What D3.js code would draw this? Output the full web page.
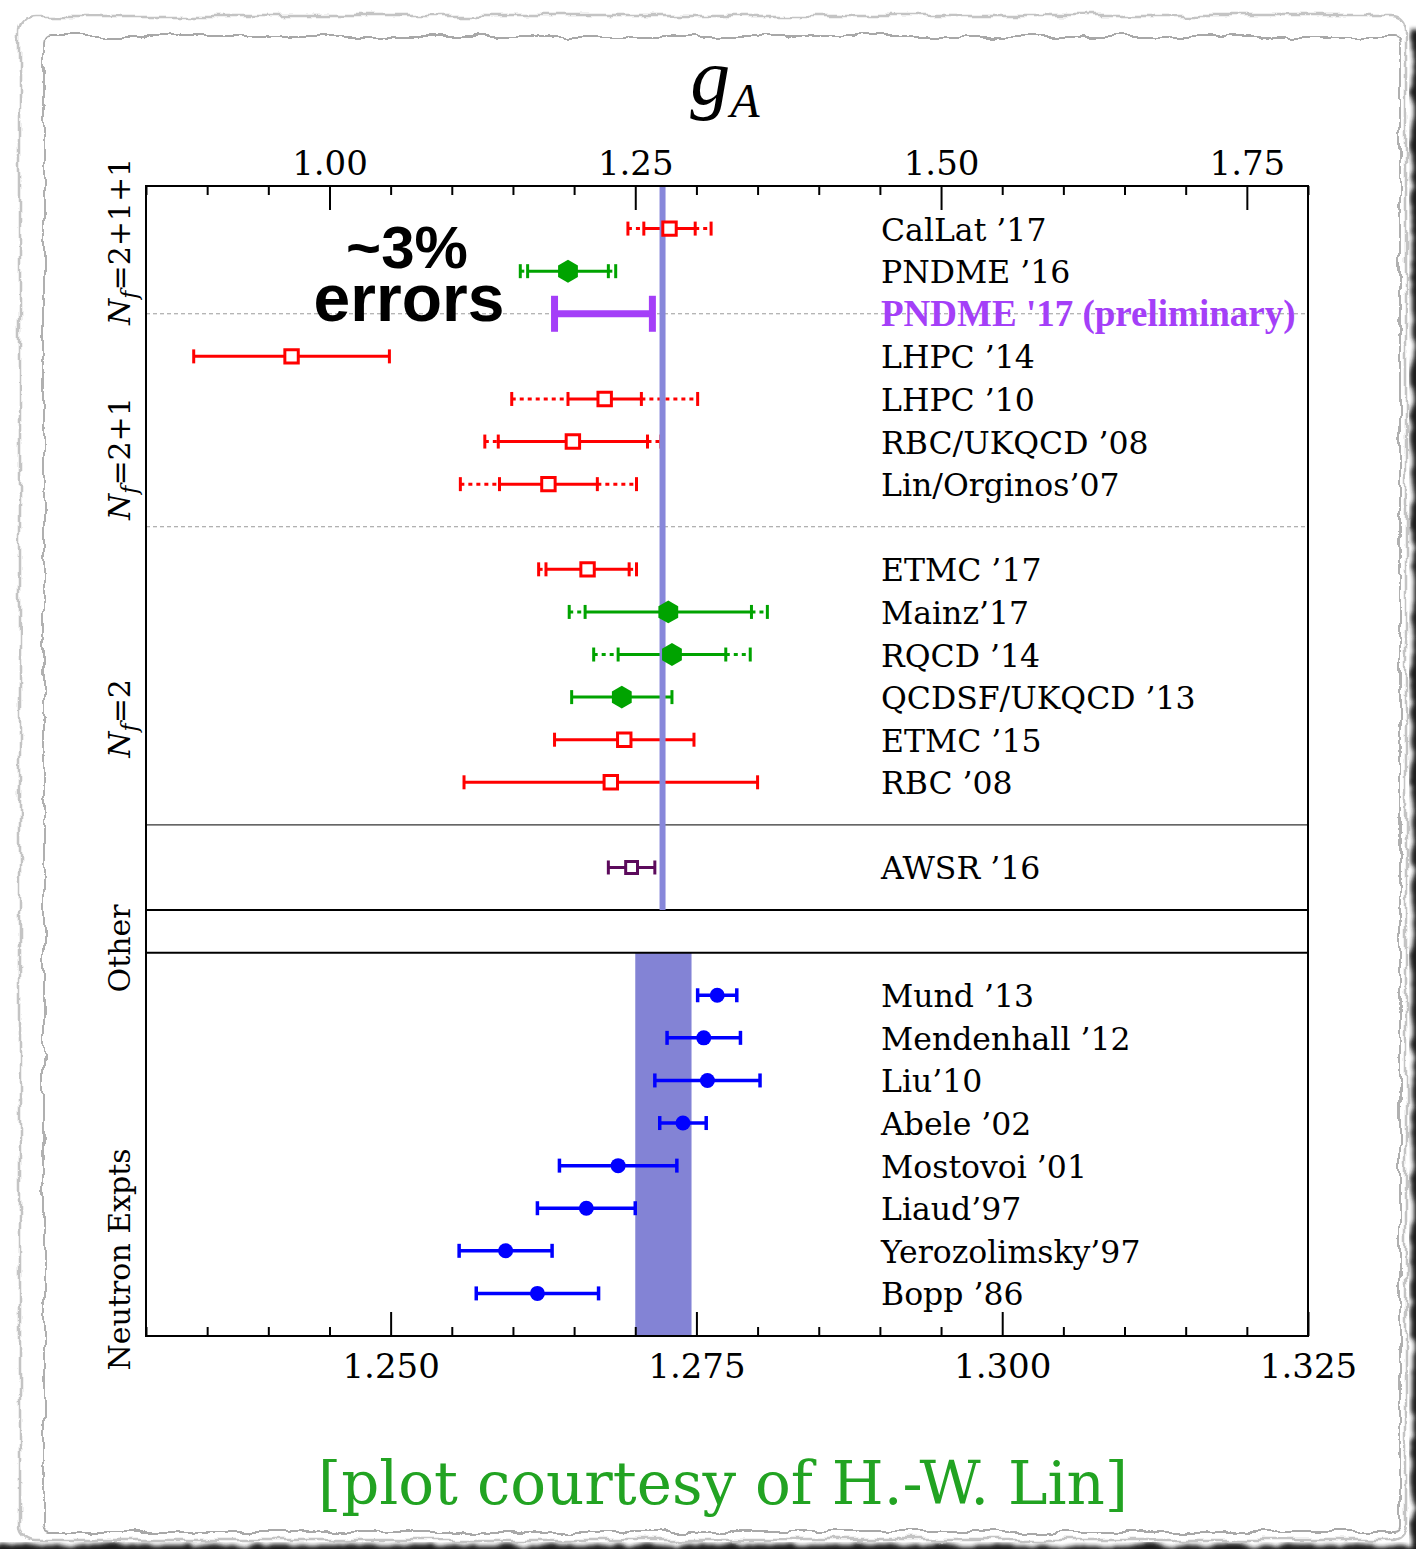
<!DOCTYPE html>
<html>
<head>
<meta charset="utf-8">
<script src="https://cdn.jsdelivr.net/npm/d3@7"></script>
<style>
  body { margin: 0; background: #fff; }
  svg text { font-family: "DejaVu Serif", serif; }
</style>
</head>
<body>
<div id="chart"></div>
<script>

// 1. Data

// lattice results, top axis (gA)
const latticeLabels = ["CalLat ’17", "PNDME ’16", "PNDME '17 (preliminary)", "LHPC ’14", "LHPC ’10",
  "RBC/UKQCD ’08", "Lin/Orginos’07", "ETMC ’17", "Mainz’17", "RQCD ’14", "QCDSF/UKQCD ’13",
  "ETMC ’15", "RBC ’08", "AWSR ’16"]
const latticeRows = [0, 1, 2, 3, 4, 5, 6, 8, 9, 10, 11, 12, 13, 15]
const latticeValues = [1.278, 1.195, 1.224, 0.969, 1.225, 1.199, 1.179, 1.211, 1.277, 1.280, 1.239, 1.241, 1.230, 1.247]
const latticeStatErr = [0.021, 0.033, 0.040, 0.080, 0.030, 0.061, 0.040, 0.034, 0.068, 0.044, 0.041, 0.057, 0.120, 0.019]
const latticeTotalErr = [0.034, 0.039, null, null, 0.076, 0.072, 0.072, 0.040, 0.081, 0.064, null, null, null, null]
const latticeKind = ["square", "hex", "bar", "square", "square", "square", "square", "square",
  "hex", "hex", "hex", "square", "square", "awsr"]

// neutron decay experiments, bottom axis
const neutronLabels = ["Mund ’13", "Mendenhall ’12", "Liu’10", "Abele ’02", "Mostovoi ’01",
  "Liaud’97", "Yerozolimsky’97", "Bopp ’86"]
const neutronRows = [18, 19, 20, 21, 22, 23, 24, 25]
const neutronValues = [1.2767, 1.2756, 1.2759, 1.2739, 1.2686, 1.2660, 1.2594, 1.2620]
const neutronErr = [0.0016, 0.0030, 0.0043, 0.0019, 0.0048, 0.0040, 0.0038, 0.0050]

// world average band
const pdgValue = 1.2723
const pdgErr = 0.0023

// ticks
const topMajorTicks = [1.00, 1.25, 1.50, 1.75]
const topMinorTicks = [0.85, 0.90, 0.95, 1.05, 1.10, 1.15, 1.20, 1.30, 1.35, 1.40, 1.45, 1.55, 1.60, 1.65, 1.70, 1.80]
const bottomMajorTicks = [1.250, 1.275, 1.300, 1.325]
const bottomMinorTicks = [1.230, 1.235, 1.240, 1.245, 1.255, 1.260, 1.265, 1.270, 1.280, 1.285, 1.290, 1.295, 1.305, 1.310, 1.315, 1.320]

// group labels on the left
const groupLabels = [
  { main: "N", sub: "f", rest: "=2+1+1", row: 0.3 },
  { main: "N", sub: "f", rest: "=2+1", row: 5.4 },
  { main: "N", sub: "f", rest: "=2", row: 11.5 },
  { main: "", sub: "", rest: "Other", row: 16.9 },
  { main: "", sub: "", rest: "Neutron Expts", row: 24.2 },
]

// 2. Dimensions

let dimensions = {
  width: 1416,
  height: 1549,
  margin: { top: 186, right: 108, bottom: 213, left: 146 },
}
dimensions.boundedWidth = dimensions.width - dimensions.margin.left - dimensions.margin.right
dimensions.boundedHeight = dimensions.height - dimensions.margin.top - dimensions.margin.bottom

const colors = {
  square: "#ff0000",
  hex: "#00a300",
  bar: "#a43ff8",
  awsr: "#5c0a5c",
  neutron: "#0000ff",
  band: "#8383d5",
  line: "#8787da",
}

// 3. Canvas

const svg = d3.select("#chart")
  .append("svg")
    .attr("width", dimensions.width)
    .attr("height", dimensions.height)

// torn paper look
const defs = svg.append("defs")
const rough = defs.append("filter").attr("id", "rough")
    .attr("x", "-5%").attr("y", "-5%").attr("width", "110%").attr("height", "110%")
rough.append("feTurbulence")
    .attr("type", "fractalNoise").attr("baseFrequency", "0.04").attr("numOctaves", 4).attr("seed", 3)
    .attr("result", "noise")
rough.append("feDisplacementMap")
    .attr("in", "SourceGraphic").attr("in2", "noise").attr("scale", 10)
    .attr("xChannelSelector", "R").attr("yChannelSelector", "G")
const shadow = defs.append("filter").attr("id", "shadow")
    .attr("x", "-10%").attr("y", "-10%").attr("width", "120%").attr("height", "120%")
shadow.append("feTurbulence")
    .attr("type", "fractalNoise").attr("baseFrequency", "0.05").attr("numOctaves", 3).attr("seed", 7)
    .attr("result", "noise")
shadow.append("feDisplacementMap")
    .attr("in", "SourceGraphic").attr("in2", "noise").attr("scale", 10)
    .attr("xChannelSelector", "R").attr("yChannelSelector", "G").attr("result", "d")
shadow.append("feGaussianBlur").attr("in", "d").attr("stdDeviation", 2)

const paper = svg.append("g").attr("class", "paper")
paper.append("rect")
    .attr("x", 1412).attr("y", 30).attr("width", 30).attr("height", 1540)
    .attr("fill", "#1e1e1e").attr("filter", "url(#shadow)")
paper.append("rect")
    .attr("x", -10).attr("y", 1545).attr("width", 1450).attr("height", 30)
    .attr("fill", "#1e1e1e").attr("filter", "url(#shadow)")
paper.append("rect")
    .attr("x", 20).attr("y", 16).attr("width", 1386).attr("height", 1524)
    .attr("rx", 14)
    .attr("fill", "#fff").attr("stroke", "#c4c4c4").attr("stroke-width", 2.5)
    .attr("filter", "url(#rough)")
paper.append("rect")
    .attr("x", 44).attr("y", 36).attr("width", 1356).attr("height", 1496)
    .attr("rx", 6)
    .attr("fill", "#fff").attr("stroke", "#a8a8a8").attr("stroke-width", 1.8)
    .attr("filter", "url(#rough)")

const bounds = svg.append("g")

// 4. Scales

const xTop = d3.scaleLinear()
  .domain([0.85, 1.80])
  .range([dimensions.margin.left, dimensions.margin.left + dimensions.boundedWidth])

const xBottom = d3.scaleLinear()
  .domain([1.230, 1.325])
  .range([dimensions.margin.left, dimensions.margin.left + dimensions.boundedWidth])

const yScale = d3.scaleLinear()
  .domain([-1, 26])
  .range([dimensions.margin.top, dimensions.margin.top + dimensions.boundedHeight])

const left = xTop.range()[0]
const right = xTop.range()[1]

// 5. Peripherals behind the data

// world average band in the neutron panel
bounds.append("rect")
    .attr("x", xBottom(pdgValue - pdgErr))
    .attr("y", yScale(17))
    .attr("width", xBottom(pdgValue + pdgErr) - xBottom(pdgValue - pdgErr))
    .attr("height", yScale(26) - yScale(17))
    .attr("fill", colors.band)

// separators
bounds.selectAll(".sep-dash")
  .data([2, 7])
  .join("line")
    .attr("class", "sep-dash")
    .attr("x1", left).attr("x2", right)
    .attr("y1", d => yScale(d)).attr("y2", d => yScale(d))
    .attr("stroke", "#9a9a9a")
    .attr("stroke-width", 1)
    .attr("stroke-dasharray", "4,3")

bounds.append("line")
    .attr("x1", left).attr("x2", right)
    .attr("y1", yScale(14)).attr("y2", yScale(14))
    .attr("stroke", "#333").attr("stroke-width", 1.2)

bounds.selectAll(".sep-solid")
  .data([16, 17])
  .join("line")
    .attr("class", "sep-solid")
    .attr("x1", left).attr("x2", right)
    .attr("y1", d => yScale(d)).attr("y2", d => yScale(d))
    .attr("stroke", "#000").attr("stroke-width", 2)

// 6. Error bars

const lattice = latticeLabels.map((label, i) => ({
  label,
  row: latticeRows[i],
  value: latticeValues[i],
  stat: latticeStatErr[i],
  total: latticeTotalErr[i],
  kind: latticeKind[i],
}))

const neutrons = neutronLabels.map((label, i) => ({
  label,
  row: neutronRows[i],
  value: neutronValues[i],
  err: neutronErr[i],
}))

const drawBar = (g, x, lo, hi, y, color, width, dash) => {
  g.append("line")
      .attr("x1", x(lo)).attr("x2", x(hi))
      .attr("y1", y).attr("y2", y)
      .attr("stroke", color).attr("stroke-width", width)
      .attr("stroke-dasharray", dash)
}
const drawCap = (g, px, y, color, width, capHalf) => {
  g.append("line")
      .attr("x1", px).attr("x2", px)
      .attr("y1", y - capHalf).attr("y2", y + capHalf)
      .attr("stroke", color).attr("stroke-width", width)
}

const latticeBars = bounds.append("g").attr("class", "lattice-bars")
lattice.forEach(d => {
  const y = yScale(d.row)
  const color = colors[d.kind]
  if (d.kind === "bar") {
    drawBar(latticeBars, xTop, d.value - d.stat, d.value + d.stat, y, color, 7)
    drawCap(latticeBars, xTop(d.value - d.stat), y, color, 7, 18)
    drawCap(latticeBars, xTop(d.value + d.stat), y, color, 7, 18)
    return
  }
  const w = 3
  drawBar(latticeBars, xTop, d.value - d.stat, d.value + d.stat, y, color, w)
  drawCap(latticeBars, xTop(d.value - d.stat), y, color, w, 7)
  drawCap(latticeBars, xTop(d.value + d.stat), y, color, w, 7)
  if (d.total) {
    drawBar(latticeBars, xTop, d.value - d.total, d.value - d.stat, y, color, w, "4,4")
    drawBar(latticeBars, xTop, d.value + d.stat, d.value + d.total, y, color, w, "4,4")
    drawCap(latticeBars, xTop(d.value - d.total), y, color, w, 7)
    drawCap(latticeBars, xTop(d.value + d.total), y, color, w, 7)
  }
})

const neutronBars = bounds.append("g").attr("class", "neutron-bars")
neutrons.forEach(d => {
  const y = yScale(d.row)
  drawBar(neutronBars, xBottom, d.value - d.err, d.value + d.err, y, colors.neutron, 3.5)
  drawCap(neutronBars, xBottom(d.value - d.err), y, colors.neutron, 3.5, 7)
  drawCap(neutronBars, xBottom(d.value + d.err), y, colors.neutron, 3.5, 7)
})

// average line through the lattice panels
bounds.append("line")
    .attr("x1", xTop(pdgValue)).attr("x2", xTop(pdgValue))
    .attr("y1", yScale(-1)).attr("y2", yScale(16))
    .attr("stroke", colors.line)
    .attr("stroke-width", 6)

// 7. Markers

const symbolHexagon = {
  draw(context, size) {
    const r = Math.sqrt(size / (1.5 * Math.sqrt(3)))
    for (let i = 0; i < 6; i++) {
      const a = Math.PI / 3 * i - Math.PI / 2
      if (i === 0) context.moveTo(r * Math.cos(a), r * Math.sin(a))
      else context.lineTo(r * Math.cos(a), r * Math.sin(a))
    }
    context.closePath()
  }
}

bounds.append("g")
  .selectAll("path")
  .data(lattice.filter(d => d.kind !== "bar"))
  .join("path")
    .attr("transform", d => `translate(${xTop(d.value)}, ${yScale(d.row)})`)
    .attr("d", d => d.kind === "hex"
      ? d3.symbol(symbolHexagon, 340)()
      : d3.symbol(d3.symbolSquare, d.kind === "awsr" ? 140 : 180)())
    .attr("fill", d => d.kind === "hex" ? colors.hex : "#fff")
    .attr("stroke", d => colors[d.kind])
    .attr("stroke-width", d => d.kind === "hex" ? 0 : 3)

bounds.append("g")
  .selectAll("circle")
  .data(neutrons)
  .join("circle")
    .attr("cx", d => xBottom(d.value))
    .attr("cy", d => yScale(d.row))
    .attr("r", 7.5)
    .attr("fill", colors.neutron)

// 8. Labels

bounds.append("g")
  .selectAll("text")
  .data(lattice)
  .join("text")
    .attr("x", 881)
    .attr("y", d => yScale(d.row) + 12)
    .style("font-family", d => d.kind === "bar" ? "'Liberation Serif', serif" : null)
    .style("font-weight", d => d.kind === "bar" ? 700 : 400)
    .style("font-size", d => d.kind === "bar" ? "37px" : "31.5px")
    .attr("fill", d => d.kind === "bar" ? colors.bar : "#000")
    .text(d => d.label)

bounds.append("g")
  .selectAll("text")
  .data(neutrons)
  .join("text")
    .attr("x", 881)
    .attr("y", d => yScale(d.row) + 12)
    .style("font-size", "31.5px")
    .text(d => d.label)

// frame
bounds.append("rect")
    .attr("x", left).attr("y", yScale(-1))
    .attr("width", right - left).attr("height", yScale(26) - yScale(-1))
    .attr("fill", "none").attr("stroke", "#000").attr("stroke-width", 2)

// axes
const topMajor = d3.axisTop(xTop)
    .tickValues(topMajorTicks).tickSize(-24).tickPadding(11).tickFormat(d3.format(".2f"))
const topMinor = d3.axisTop(xTop)
    .tickValues(topMinorTicks).tickSize(-9).tickFormat("")
const bottomMajor = d3.axisBottom(xBottom)
    .tickValues(bottomMajorTicks).tickSize(-24).tickPadding(18).tickFormat(d3.format(".3f"))
const bottomMinor = d3.axisBottom(xBottom)
    .tickValues(bottomMinorTicks).tickSize(-9).tickFormat("")

const styleAxis = g => {
  g.select(".domain").remove()
  g.selectAll(".tick line").attr("stroke", "#000").attr("stroke-width", 2)
  g.selectAll(".tick text")
      .attr("fill", "#000")
      .style("font-family", "'DejaVu Serif', serif")
      .style("font-size", "34px")
}

bounds.append("g").attr("transform", `translate(0, ${yScale(-1)})`).call(topMajor).call(styleAxis)
bounds.append("g").attr("transform", `translate(0, ${yScale(-1)})`).call(topMinor).call(styleAxis)
bounds.append("g").attr("transform", `translate(0, ${yScale(26)})`).call(bottomMajor).call(styleAxis)
bounds.append("g").attr("transform", `translate(0, ${yScale(26)})`).call(bottomMinor).call(styleAxis)

// title g_A
const title = bounds.append("text")
    .attr("x", 725)
    .attr("y", 104)
    .attr("text-anchor", "middle")
    .style("font-family", "'Liberation Serif', serif")
    .style("font-style", "italic")
title.append("tspan").style("font-size", "80px").text("g")
title.append("tspan").style("font-size", "48px").attr("dy", 13).text("A")

// group labels, rotated
const groups = bounds.append("g")
  .selectAll("text")
  .data(groupLabels)
  .join("text")
    .attr("transform", d => `translate(130, ${yScale(d.row)}) rotate(-90)`)
    .attr("text-anchor", "middle")
    .style("font-size", "30px")
groups.append("tspan").style("font-style", "italic").text(d => d.main)
groups.append("tspan").style("font-style", "italic").style("font-size", "22px")
    .attr("dy", d => d.sub ? 7 : 0).text(d => d.sub)
groups.append("tspan").attr("dy", d => d.sub ? -7 : 0).text(d => d.rest)

// ~3% errors annotation (one text, two lines)
const note = bounds.append("text")
    .attr("text-anchor", "middle")
    .style("font-family", "'Liberation Sans', sans-serif")
    .style("font-weight", 700)
note.append("tspan")
    .attr("x", 407).attr("y", 268)
    .style("font-size", "60px")
    .text("~3%")
note.append("tspan")
    .attr("x", 409).attr("y", 321)
    .style("font-size", "66px")
    .text("errors")

// credit
bounds.append("text")
    .attr("x", 723).attr("y", 1504)
    .attr("text-anchor", "middle")
    .attr("fill", "#22a322")
    .style("font-size", "59.5px")
    .text("[plot courtesy of H.-W. Lin]")

</script>
</body>
</html>
